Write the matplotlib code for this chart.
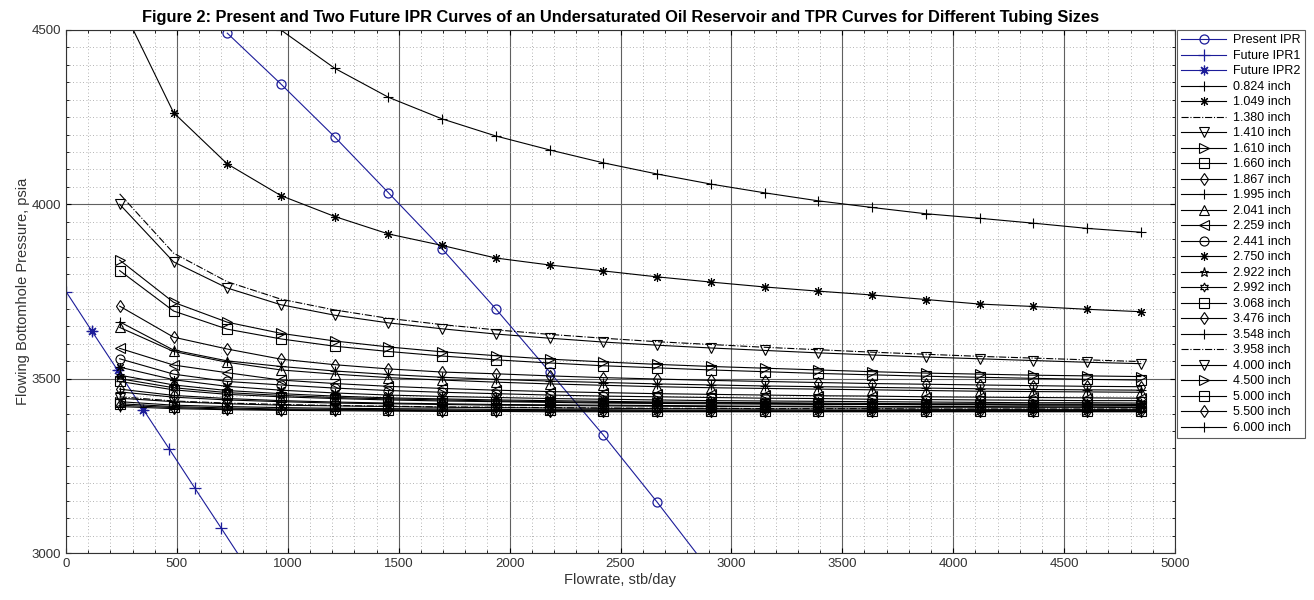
import matplotlib
matplotlib.use("Agg")
import matplotlib.pyplot as plt
from matplotlib.ticker import MultipleLocator

plt.rcParams['font.family'] = ['Liberation Sans', 'DejaVu Sans']

# IPR curves
q_present = [727, 969, 1212, 1454, 1696, 1938, 2181, 2423, 2665, 2908]
p_present = [4491, 4345, 4193, 4033, 3872, 3700, 3519, 3338, 3146, 2945]

q_future1 = [0, 116, 233, 349, 465, 582, 698, 814]
p_future1 = [3750, 3637, 3524, 3411, 3299, 3185, 3073, 2960]

q_future2 = [116, 233, 349]
p_future2 = [3637, 3524, 3411]

# TPR curves (flowrate grid shared by all tubing sizes)
q_tpr = [242, 485, 727, 969, 1212, 1454, 1696, 1938, 2181, 2423,
         2665, 2908, 3150, 3392, 3634, 3877, 4119, 4361, 4604, 4846]

tubing = ['0.824', '1.049', '1.380', '1.410', '1.610', '1.660', '1.867', '1.995',
          '2.041', '2.259', '2.441', '2.750', '2.922', '2.992', '3.068', '3.476',
          '3.548', '3.958', '4.000', '4.500', '5.000', '5.500', '6.000']

p_0824 = [6000, 5200, 4750, 4500, 4390, 4307, 4245, 4196, 4156, 4119,
          4087, 4058, 4033, 4010, 3991, 3973, 3960, 3946, 3931, 3920]
p_1049 = [4580, 4263, 4116, 4025, 3965, 3915, 3882, 3846, 3826, 3809,
          3792, 3777, 3763, 3751, 3740, 3727, 3714, 3707, 3699, 3692]
p_1380 = [4030, 3860, 3778, 3728, 3697, 3673, 3655, 3640, 3627, 3616,
          3606, 3598, 3590, 3583, 3576, 3570, 3564, 3559, 3554, 3549]
p_1410 = [4000, 3835, 3760, 3712, 3682, 3660, 3643, 3628, 3616, 3605,
          3596, 3588, 3581, 3574, 3568, 3562, 3557, 3552, 3547, 3543]
p_1610 = [3840, 3719, 3662, 3630, 3608, 3591, 3577, 3566, 3556, 3548,
          3541, 3535, 3530, 3525, 3520, 3516, 3513, 3510, 3508, 3506]
p_1660 = [3810, 3694, 3642, 3614, 3593, 3578, 3565, 3554, 3545, 3537,
          3531, 3525, 3520, 3515, 3511, 3507, 3504, 3501, 3498, 3496]
p_1867 = [3708, 3619, 3585, 3556, 3540, 3528, 3519, 3514, 3508, 3503,
          3499, 3495, 3492, 3489, 3486, 3484, 3482, 3480, 3478, 3477]
p_1995 = [3663, 3582, 3551, 3535, 3522, 3512, 3504, 3498, 3493, 3489,
          3485, 3482, 3479, 3477, 3475, 3473, 3471, 3469, 3468, 3467]
p_2041 = [3647, 3578, 3547, 3525, 3513, 3503, 3496, 3490, 3485, 3481,
          3477, 3474, 3472, 3470, 3468, 3466, 3464, 3463, 3462, 3461]
p_2259 = [3587, 3539, 3517, 3496, 3486, 3478, 3472, 3467, 3463, 3460,
          3457, 3455, 3453, 3451, 3450, 3448, 3447, 3446, 3445, 3444]
p_2441 = [3557, 3513, 3492, 3482, 3473, 3466, 3461, 3457, 3453, 3450,
          3448, 3446, 3444, 3443, 3441, 3440, 3439, 3438, 3437, 3437]
p_2750 = [3533, 3497, 3478, 3467, 3459, 3453, 3449, 3446, 3443, 3441,
          3439, 3437, 3436, 3435, 3434, 3433, 3432, 3431, 3431, 3430]
p_2922 = [3510, 3482, 3466, 3457, 3450, 3445, 3442, 3439, 3437, 3435,
          3433, 3432, 3431, 3430, 3429, 3428, 3428, 3427, 3427, 3426]
p_2992 = [3500, 3474, 3460, 3452, 3446, 3442, 3439, 3436, 3434, 3432,
          3431, 3430, 3429, 3428, 3427, 3426, 3426, 3425, 3425, 3424]
p_3068 = [3492, 3468, 3455, 3448, 3443, 3439, 3436, 3434, 3432, 3430,
          3429, 3428, 3427, 3426, 3426, 3425, 3425, 3424, 3424, 3423]
p_3476 = [3470, 3452, 3443, 3437, 3433, 3430, 3428, 3426, 3425, 3424,
          3423, 3422, 3421, 3421, 3420, 3420, 3420, 3419, 3419, 3419]
p_3548 = [3462, 3447, 3439, 3434, 3430, 3428, 3426, 3424, 3423, 3422,
          3421, 3420, 3420, 3419, 3419, 3418, 3418, 3418, 3418, 3417]
p_3958 = [3448, 3436, 3430, 3426, 3423, 3421, 3419, 3418, 3417, 3416,
          3415, 3415, 3414, 3414, 3414, 3413, 3413, 3413, 3413, 3413]
p_4000 = [3444, 3434, 3428, 3424, 3422, 3420, 3418, 3417, 3416, 3415,
          3414, 3414, 3413, 3413, 3413, 3412, 3412, 3412, 3412, 3412]
p_4500 = [3434, 3424, 3420, 3417, 3415, 3414, 3413, 3412, 3411, 3411,
          3410, 3410, 3410, 3409, 3409, 3409, 3409, 3409, 3409, 3409]
p_5000 = [3428, 3420, 3416, 3413, 3412, 3411, 3410, 3409, 3409, 3408,
          3408, 3408, 3408, 3407, 3407, 3407, 3407, 3407, 3407, 3407]
p_5500 = [3424, 3417, 3413, 3411, 3410, 3409, 3408, 3407, 3407, 3407,
          3406, 3406, 3406, 3406, 3406, 3406, 3406, 3406, 3406, 3406]
p_6000 = [3420, 3414, 3411, 3409, 3408, 3407, 3406, 3406, 3405, 3405,
          3405, 3405, 3405, 3405, 3405, 3405, 3405, 3405, 3405, 3405]

tpr_curves = [p_0824, p_1049, p_1380, p_1410, p_1610, p_1660, p_1867, p_1995,
              p_2041, p_2259, p_2441, p_2750, p_2922, p_2992, p_3068, p_3476,
              p_3548, p_3958, p_4000, p_4500, p_5000, p_5500, p_6000]

asterisk = (8, 2, 0)
hexagram = (6, 1, 0)
markers = ['+', asterisk, None, 'v', '>', 's', 'd', '+',
           '^', '<', 'o', asterisk, '*', hexagram, 's', 'd',
           '+', None, 'v', '>', 's', 'd', '+']

blue = '#1c1c99'

fig = plt.figure(figsize=(13.14, 6.0), dpi=100)
ax = fig.add_axes([66 / 1314, 1 - 553 / 600, (1175 - 66) / 1314, (553 - 30) / 600])

ax.plot(q_present, p_present, color=blue, lw=0.8, marker='o', ms=6.5,
        mfc='none', mew=0.9, label='Present IPR')
ax.plot(q_future1, p_future1, color=blue, lw=0.8, marker='+', ms=8,
        mew=0.9, label='Future IPR1')
ax.plot(q_future2, p_future2, color=blue, lw=0.8, marker=asterisk, ms=7,
        mew=0.9, linestyle='none', label='_nolegend_')
ax.plot([], [], color=blue, lw=0.8, marker=asterisk, ms=7, mew=0.9, label='Future IPR2')

for size, p, m in zip(tubing, tpr_curves, markers):
    ls = '-.' if m is None else '-'
    ax.plot(q_tpr, p, color='black', lw=0.8, ls=ls, marker=m, ms=6.5,
            mfc='none', mew=0.8, label=size + ' inch')

ax.set_xlim(0, 5000)
ax.set_ylim(3000, 4500)
ax.xaxis.set_major_locator(MultipleLocator(500))
ax.xaxis.set_minor_locator(MultipleLocator(100))
ax.yaxis.set_major_locator(MultipleLocator(500))
ax.yaxis.set_minor_locator(MultipleLocator(50))
ax.grid(which='major', color='#606060', lw=0.8, ls='-')
ax.grid(which='minor', color='#9a9a9a', lw=0.6, ls=(0, (1, 3)))
ax.set_axisbelow(True)
ax.tick_params(which='both', direction='in', top=True, right=True,
               labelsize=9.5, labelcolor='#333333')
ax.tick_params(which='minor', length=2)
for s in ax.spines.values():
    s.set_color('#333333')

ax.set_xlabel('Flowrate, stb/day', fontsize=10.5, color='#333333', labelpad=2)
ax.set_ylabel('Flowing Bottomhole Pressure, psia', fontsize=10.5, color='#333333', labelpad=1)
ax.set_title('Figure 2: Present and Two Future IPR Curves of an Undersaturated Oil Reservoir '
             'and TPR Curves for Different Tubing Sizes',
             fontsize=11.8, fontweight='bold', pad=6)

leg = fig.legend(loc='upper left', bbox_to_anchor=(1177 / 1314, 1 - 30 / 600),
                 fontsize=9, frameon=True, fancybox=False, edgecolor='#333333',
                 handlelength=3.6, labelspacing=0.28, borderpad=0.35,
                 handletextpad=0.5, borderaxespad=0)
leg.get_frame().set_linewidth(0.8)

fig.savefig('out.png', dpi=100)
